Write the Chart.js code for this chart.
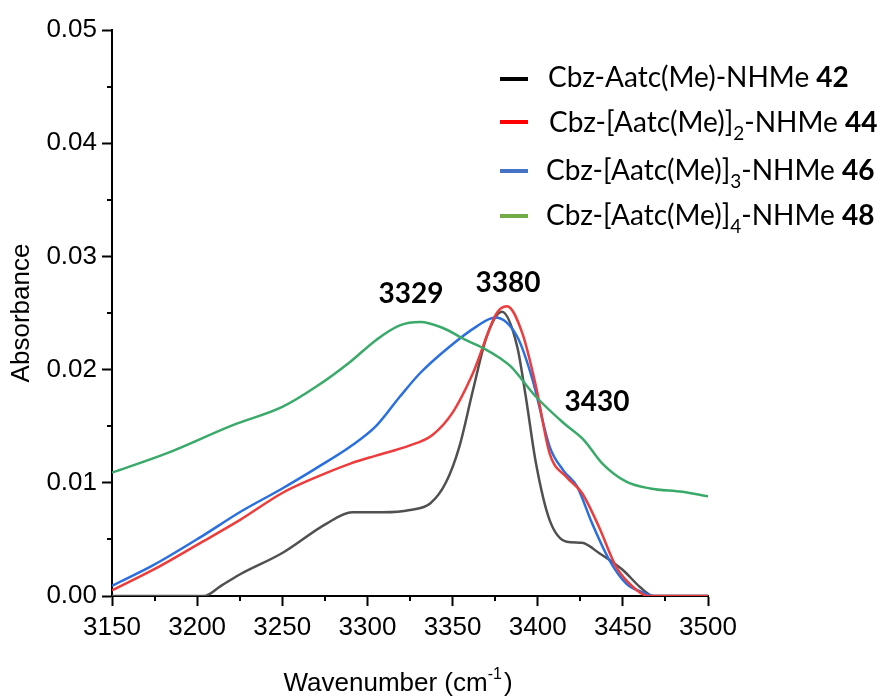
<!DOCTYPE html>
<html>
<head>
<meta charset="utf-8">
<script src="https://cdn.jsdelivr.net/npm/chart.js@4.4.1/dist/chart.umd.min.js"></script>
<style>
  html, body { margin: 0; padding: 0; background: #fff; }
  #wrap { width: 891px; height: 700px; }
</style>
</head>
<body>
<div id="wrap"><canvas id="irChart" width="891" height="700"></canvas></div>
<script>
// wavenumbers (cm-1) and absorbance
const blackX = [3150, 3175, 3200, 3204, 3214, 3225, 3250, 3276, 3291, 3309, 3325, 3337, 3346, 3354, 3362, 3370, 3379, 3388, 3393, 3399, 3407, 3417, 3426, 3436, 3450, 3460, 3468, 3500];
const blackY = [0, 0, 0, 0, 0.0009, 0.0019, 0.0038, 0.0064, 0.0074, 0.0074, 0.0076, 0.0082, 0.0100, 0.0132, 0.0182, 0.0229, 0.0251, 0.0220, 0.0176, 0.0117, 0.0067, 0.0048, 0.0047, 0.0038, 0.0023, 0.0008, 0, 0];

const redX = [3150, 3174, 3202, 3225, 3250, 3270, 3290, 3305, 3325, 3338, 3350, 3362, 3376, 3382, 3391, 3399, 3407, 3417, 3426, 3436, 3446, 3456, 3465, 3500];
const redY = [0.0005, 0.0023, 0.0047, 0.0067, 0.0091, 0.0105, 0.0117, 0.0124, 0.0133, 0.0142, 0.0162, 0.0197, 0.0250, 0.0256, 0.0232, 0.0185, 0.0126, 0.0105, 0.0091, 0.0061, 0.0026, 0.0008, 0, 0];

const blueX = [3150, 3174, 3202, 3225, 3250, 3270, 3290, 3305, 3319, 3331, 3348, 3364, 3375, 3388, 3397, 3407, 3415, 3423, 3432, 3442, 3452, 3462, 3468, 3500];
const blueY = [0.0009, 0.0027, 0.0052, 0.0074, 0.0095, 0.0113, 0.0132, 0.0150, 0.0176, 0.0197, 0.0220, 0.0238, 0.0246, 0.0229, 0.0191, 0.0132, 0.0111, 0.0097, 0.0064, 0.0032, 0.0011, 0.0003, 0, 0];

const greenX = [3150, 3182, 3221, 3250, 3270, 3290, 3305, 3319, 3331, 3344, 3358, 3368, 3378, 3384, 3399, 3415, 3427, 3438, 3452, 3466, 3485, 3500];
const greenY = [0.0109, 0.0126, 0.0151, 0.0167, 0.0185, 0.0207, 0.0226, 0.0239, 0.0242, 0.0237, 0.0226, 0.0219, 0.0210, 0.0203, 0.0176, 0.0153, 0.0138, 0.0117, 0.0101, 0.0095, 0.0092, 0.0088];

const peakLabels = ['3329', '3380', '3430'];
const xTicks = [3150, 3200, 3250, 3300, 3350, 3400, 3450, 3500];
const yTicks = [0, 0.01, 0.02, 0.03, 0.04, 0.05];

function toPoints(xs, ys) {
    return xs.map((x, i) => ({ x: x, y: ys[i] }));
}

// legend entries: [prefix, subscript, suffix, bold number, swatch colour]
const legendItems = [
    ['Cbz-Aatc(Me)-NHMe ', '', '', '42', '#000000'],
    ['Cbz-[Aatc(Me)]', '2', '-NHMe ', '44', '#ff0000'],
    ['Cbz-[Aatc(Me)]', '3', '-NHMe ', '46', '#4472c4'],
    ['Cbz-[Aatc(Me)]', '4', '-NHMe ', '48', '#70ad47']
];

const extras = {
    id: 'extras',
    afterDraw(chart) {
        const ctx = chart.ctx;
        const xs = chart.scales.x, ys = chart.scales.y;
        const area = chart.chartArea;
        ctx.save();

        // minor ticks
        ctx.strokeStyle = '#000';
        ctx.lineWidth = 2;
        ctx.beginPath();
        for (let v = 0.005; v < 0.05; v += 0.01) {
            const py = Math.round(ys.getPixelForValue(v));
            ctx.moveTo(area.left - 5, py);
            ctx.lineTo(area.left, py);
        }
        for (let v = 3175; v < 3500; v += 50) {
            const px = Math.round(xs.getPixelForValue(v));
            ctx.moveTo(px, area.bottom);
            ctx.lineTo(px, area.bottom + 5);
        }
        ctx.stroke();

        // x axis title with superscript
        ctx.fillStyle = '#000';
        ctx.textBaseline = 'alphabetic';
        ctx.textAlign = 'left';
        const big = '26px "Liberation Sans", Arial, sans-serif';
        const small = '16px "Liberation Sans", Arial, sans-serif';
        ctx.font = big;
        const w1 = ctx.measureText('Wavenumber (cm').width;
        const w3 = ctx.measureText(')').width;
        ctx.font = small;
        const w2 = ctx.measureText('-1').width;
        let tx = 398 - (w1 + w2 + w3 + 2) / 2;
        const ty = 691;
        ctx.font = big;
        ctx.fillText('Wavenumber (cm', tx, ty);
        tx += w1;
        ctx.font = small;
        ctx.fillText('-1', tx, ty - 12);
        tx += w2 + 2;
        ctx.font = big;
        ctx.fillText(')', tx, ty);

        // peak annotations
        ctx.font = 'bold 28px Lato, "Open Sans", sans-serif';
        ctx.textAlign = 'center';
        ctx.fillText(peakLabels[0], 411, 303);
        ctx.fillText(peakLabels[1], 508, 292);
        ctx.fillText(peakLabels[2], 597, 411);

        // legend
        const rowY = [79, 122, 171, 216];
        const baseY = [87, 132, 180, 225];
        const reg = '28px Lato, "Open Sans", sans-serif';
        const sub = '19px Lato, "Open Sans", sans-serif';
        ctx.textAlign = 'left';
        legendItems.forEach((it, i) => {
            ctx.strokeStyle = it[4];
            ctx.lineWidth = 4;
            ctx.beginPath();
            ctx.moveTo(500, rowY[i]);
            ctx.lineTo(528, rowY[i]);
            ctx.stroke();

            let lx = i === 0 ? 548 : (i === 1 ? 549 : 546);
            const by = baseY[i];
            ctx.fillStyle = '#000';
            ctx.font = reg;
            ctx.fillText(it[0], lx, by);
            lx += ctx.measureText(it[0]).width;
            if (it[1]) {
                ctx.font = sub;
                ctx.fillText(it[1], lx, by + 8);
                lx += ctx.measureText(it[1]).width;
                ctx.font = reg;
                ctx.fillText(it[2], lx, by);
                lx += ctx.measureText(it[2]).width;
            }
            ctx.font = 'bold 28px Lato, "Open Sans", sans-serif';
            ctx.fillText(it[3], lx, by);
        });
        ctx.restore();
    }
};

const lineDefaults = { borderWidth: 2.5, pointRadius: 0, fill: false, cubicInterpolationMode: 'monotone' };

new Chart(document.getElementById('irChart'), {
    type: 'line',
    data: {
        datasets: [
            Object.assign({ label: '48', data: toPoints(greenX, greenY), borderColor: '#3aaa6a' }, lineDefaults),
            Object.assign({ label: '44', data: toPoints(redX, redY), borderColor: '#ee3b3b' }, lineDefaults),
            Object.assign({ label: '46', data: toPoints(blueX, blueY), borderColor: '#2a6fe0' }, lineDefaults),
            Object.assign({ label: '42', data: toPoints(blackX, blackY), borderColor: '#505050' }, lineDefaults)
        ]
    },
    options: {
        responsive: false,
        animation: false,
        layout: { padding: { top: 30, right: 183, bottom: 0, left: 0 } },
        plugins: { legend: { display: false }, tooltip: { enabled: false } },
        scales: {
            x: {
                type: 'linear',
                min: 3150,
                max: 3500,
                afterFit: s => { s.height = 104; },
                afterBuildTicks: s => { s.ticks = xTicks.map(v => ({ value: v })); },
                grid: { drawOnChartArea: false, tickLength: 10, tickWidth: 2, tickColor: '#000' },
                border: { color: '#000', width: 2 },
                ticks: { color: '#000', padding: 6, maxRotation: 0, callback: v => String(v), font: { family: '"Liberation Sans", Arial, sans-serif', size: 26 } }
            },
            y: {
                min: 0,
                max: 0.05,
                afterFit: s => { s.width = 112; },
                afterBuildTicks: s => { s.ticks = yTicks.map(v => ({ value: v })); },
                grid: { drawOnChartArea: false, tickLength: 10, tickWidth: 2, tickColor: '#000' },
                border: { color: '#000', width: 2 },
                ticks: { color: '#000', padding: 5, callback: v => v.toFixed(2), font: { family: '"Liberation Sans", Arial, sans-serif', size: 26 } },
                title: { display: true, text: 'Absorbance', color: '#000', padding: { top: 6, bottom: 0 }, font: { family: '"Liberation Sans", Arial, sans-serif', size: 26 } }
            }
        }
    },
    plugins: [extras]
});
</script>
</body>
</html>
